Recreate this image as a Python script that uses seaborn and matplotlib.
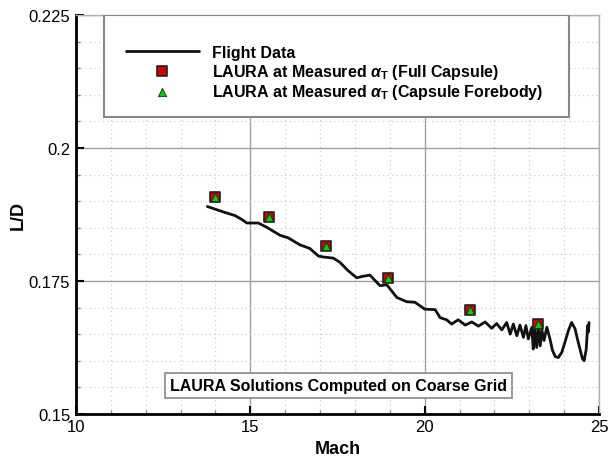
import matplotlib
matplotlib.use("Agg")
import matplotlib.pyplot as plt
from matplotlib.patches import Rectangle
from matplotlib.ticker import MultipleLocator
import seaborn as sns
import pandas as pd

# ---- data ----
flight_mach = [13.77, 14.22, 14.56, 14.75, 14.90, 15.23, 15.47, 15.85, 16.09, 16.42,
               16.71, 16.95, 17.10, 17.38, 17.57, 17.81, 18.05, 18.24, 18.43, 18.72,
               18.91, 19.20, 19.48, 19.72, 20.00, 20.30, 20.44, 20.63, 20.77, 20.96,
               21.16, 21.35, 21.54, 21.73, 21.92, 22.06, 22.21, 22.35, 22.45, 22.54,
               22.64, 22.73, 22.83, 22.90, 22.97, 23.07, 23.11, 23.15, 23.21, 23.26,
               23.31, 23.36, 23.42, 23.50, 23.59, 23.66, 23.74, 23.83, 23.93, 24.02,
               24.12, 24.21, 24.31, 24.38, 24.45, 24.52, 24.57, 24.63, 24.67, 24.69,
               24.71]
flight_ld = [0.1890, 0.1880, 0.1873, 0.1866, 0.1859, 0.1859, 0.1851, 0.1836, 0.1831, 0.1818,
             0.1811, 0.1797, 0.1795, 0.1793, 0.1785, 0.1769, 0.1756, 0.1759, 0.1761, 0.1741,
             0.1743, 0.1719, 0.1711, 0.1710, 0.1697, 0.1696, 0.1681, 0.1677, 0.1669, 0.1677,
             0.1667, 0.1673, 0.1665, 0.1673, 0.1661, 0.1670, 0.1658, 0.1672, 0.1650, 0.1669,
             0.1647, 0.1667, 0.1644, 0.1666, 0.1641, 0.1663, 0.1622, 0.1665, 0.1625, 0.1662,
             0.1628, 0.1657, 0.1638, 0.1663, 0.1641, 0.1620, 0.1608, 0.1606, 0.1616, 0.1635,
             0.1657, 0.1672, 0.1660, 0.1640, 0.1622, 0.1604, 0.1600, 0.1622, 0.1666, 0.1654,
             0.1672]

laura_mach = [13.98, 15.53, 17.17, 18.96, 21.30, 23.26]
laura_full_ld = [0.1907, 0.1870, 0.1816, 0.1756, 0.1696, 0.1669]
laura_fore_ld = [0.1907, 0.1870, 0.1816, 0.1756, 0.1696, 0.1669]

x_ticks = [10, 15, 20, 25]
y_ticks = [0.15, 0.175, 0.2, 0.225]
y_tick_labels = ["0.15", "0.175", "0.2", "0.225"]

labels = ["Flight Data",
          r"LAURA at Measured $\alpha_\mathrm{T}$ (Full Capsule)",
          r"LAURA at Measured $\alpha_\mathrm{T}$ (Capsule Forebody)"]
note_text = "LAURA Solutions Computed on Coarse Grid"

# ---- style ----
sns.set_theme(style="white")
plt.rcParams["font.family"] = ["Liberation Sans", "DejaVu Sans"]
plt.rcParams["mathtext.fontset"] = "custom"
plt.rcParams["mathtext.rm"] = "Liberation Sans:bold"
plt.rcParams["mathtext.it"] = "Liberation Sans:italic:bold"
plt.rcParams["mathtext.bf"] = "Liberation Sans:bold"
plt.rcParams["text.color"] = "black"
plt.rcParams["axes.labelcolor"] = "black"
plt.rcParams["xtick.color"] = "black"
plt.rcParams["ytick.color"] = "black"

fig = plt.figure(figsize=(6.12, 4.6), dpi=100)
ax = fig.add_axes([0.124, 0.098, 0.979 - 0.124, 0.965 - 0.098])

df_flight = pd.DataFrame({"Mach": flight_mach, "LD": flight_ld})
df_full = pd.DataFrame({"Mach": laura_mach, "LD": laura_full_ld})
df_fore = pd.DataFrame({"Mach": laura_mach, "LD": laura_fore_ld})

sns.lineplot(data=df_flight, x="Mach", y="LD", ax=ax, color="#111111", lw=2.0,
             estimator=None, sort=False, label=labels[0], zorder=4)
sns.scatterplot(data=df_full, x="Mach", y="LD", ax=ax, marker="s", s=58,
                color="#cc0000", edgecolor="#222222", linewidth=1.2,
                label=labels[1], zorder=5)
sns.scatterplot(data=df_fore, x="Mach", y="LD", ax=ax, marker="^", s=36,
                color="#00cc00", edgecolor="#222222", linewidth=0.6,
                label=labels[2], zorder=6)

ax.set_xlim(10, 25)
ax.set_ylim(0.15, 0.225)
ax.set_xticks(x_ticks)
ax.set_xticklabels([str(t) for t in x_ticks])
ax.set_yticks(y_ticks)
ax.set_yticklabels(y_tick_labels)
ax.xaxis.set_minor_locator(MultipleLocator(1))
ax.yaxis.set_minor_locator(MultipleLocator(0.005))

ax.grid(which="major", color="#a0a0a0", lw=1.0, ls="-", zorder=0)
ax.grid(which="minor", color="#c8c8c8", lw=0.8, ls=(0, (1, 3)), zorder=0)
ax.set_axisbelow(True)

for side in ["left", "bottom"]:
    ax.spines[side].set_color("black")
    ax.spines[side].set_linewidth(2.0)
for side in ["top", "right"]:
    ax.spines[side].set_color("#b0b0b0")
    ax.spines[side].set_linewidth(1.0)

ax.tick_params(which="major", direction="in", length=6, width=1.5, color="black",
               labelcolor="black", labelsize=12, bottom=True, left=True,
               top=False, right=False, pad=4)
ax.tick_params(which="minor", direction="in", length=3, width=1.0, color="#888888",
               bottom=True, left=True, top=False, right=False)

ax.set_xlabel("Mach", fontsize=13, fontweight="bold", labelpad=4, color="black")
ax.set_ylabel("L/D", fontsize=13, fontweight="bold", labelpad=1, color="black")

# legend box
ax.add_patch(Rectangle((0.0535, 0.744), 0.943 - 0.0535, 1.0 - 0.744,
                       transform=ax.transAxes, facecolor="white",
                       edgecolor="#888888", lw=1.5, zorder=7))
handles, lbls = ax.get_legend_handles_labels()
leg = ax.legend(handles, lbls, loc="upper left", bbox_to_anchor=(0.0956, 0.925),
                frameon=False, borderpad=0, borderaxespad=0,
                handlelength=4.57, handletextpad=0.85, labelspacing=0.10,
                prop={"weight": "bold", "size": 11.5}, labelcolor="black")
leg.set_zorder(8)

ax.text(17.53, 0.1553, note_text, fontsize=11.5, fontweight="bold",
        ha="center", va="center", zorder=8, color="black",
        bbox=dict(boxstyle="square,pad=0.3", facecolor="white",
                  edgecolor="#888888", lw=1.2))

fig.savefig("out.png", dpi=100)
